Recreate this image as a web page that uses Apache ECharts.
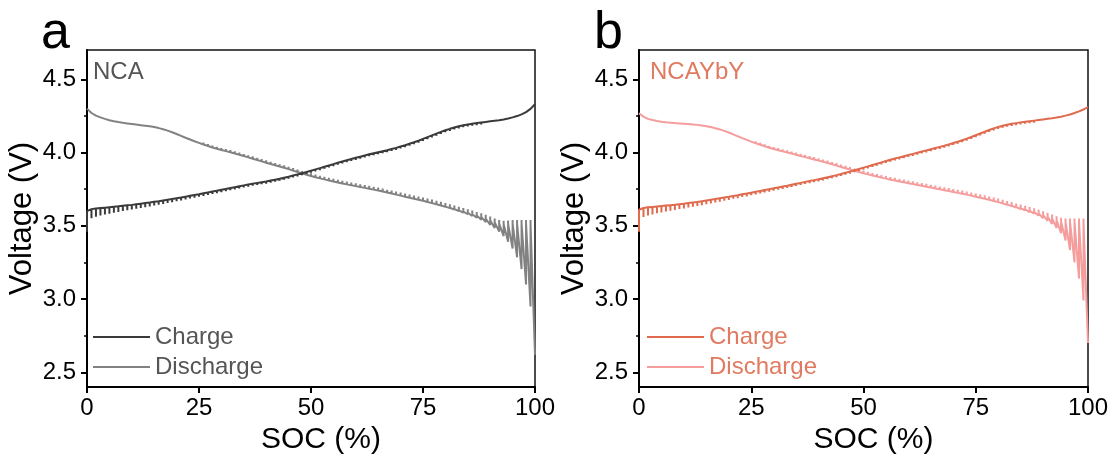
<!DOCTYPE html>
<html>
<head>
<meta charset="utf-8">
<script src="https://cdn.jsdelivr.net/npm/echarts@6/dist/echarts.min.js"></script>
<style>html,body{margin:0;padding:0;background:#fff}#c{width:1112px;height:454px}</style>
</head>
<body>
<div id="c"></div>
<script>
// ---------- data ----------
const socSteps = [0,1,2,3,4,5,6,7,8,9,10,11,12,13,14,15,16,17,18,19,20,21,22,23,24,25,26,27,28,29,30,31,32,33,34,35,36,37,38,39,40,41,42,43,44,45,46,47,48,49,50,51,52,53,54,55,56,57,58,59,60,61,62,63,64,65,66,67,68,69,70,71,72,73,74,75,76,77,78,79,80,81,82,83,84,85,86,87,88,89,90,91,92,93,94,95,96,97,98,99,100];

const xTicks = [0, 25, 50, 75, 100];
const yTicks = [2.5, 3.0, 3.5, 4.0, 4.5];
const yMinorTicks = [2.75, 3.25, 3.75, 4.25];

// Panel a (NCA) – charge voltage at each step (V)
const chargeA = [3.600,3.614,3.618,3.621,3.624,3.627,3.630,3.633,3.637,3.640,
3.643,3.647,3.651,3.655,3.659,3.664,3.668,3.673,3.678,3.683,
3.688,3.693,3.699,3.705,3.711,3.716,3.722,3.728,3.734,3.740,
3.746,3.752,3.758,3.764,3.770,3.776,3.782,3.788,3.793,3.798,
3.803,3.809,3.815,3.821,3.828,3.835,3.843,3.851,3.859,3.867,
3.876,3.885,3.894,3.903,3.912,3.921,3.930,3.939,3.948,3.956,
3.964,3.972,3.980,3.988,3.995,4.002,4.009,4.016,4.024,4.032,
4.041,4.050,4.060,4.070,4.081,4.093,4.105,4.117,4.129,4.141,
4.152,4.162,4.171,4.179,4.186,4.192,4.197,4.201,4.205,4.209,
4.213,4.217,4.221,4.226,4.232,4.240,4.249,4.261,4.276,4.298,
4.330];
// relaxation drop after each charge pulse (mV)
const chargeRelaxA = [140,62,56,51,47,44,41,38,36,34,
32,30,29,28,27,26,25,24,23,22,
21,20,20,19,19,18,18,18,17,17,
17,16,16,16,16,15,15,15,15,15,
15,15,14,14,14,14,14,14,14,14,
14,14,14,14,14,14,14,14,14,14,
14,14,14,14,14,14,14,14,14,14,
14,14,14,14,14,14,14,14,14,14,
14,14,14,14,14,14,14,14,14,13,
13,13,13,13,13,13,13,13,13,13,
0];
// Panel a – discharge voltage at each step (V)
const dischargeA = [4.300,4.270,4.252,4.240,4.230,4.221,4.214,4.208,4.203,4.199,
4.195,4.191,4.187,4.183,4.179,4.174,4.167,4.159,4.150,4.139,
4.127,4.114,4.101,4.089,4.077,4.066,4.055,4.045,4.035,4.026,
4.018,4.010,4.002,3.994,3.985,3.976,3.967,3.958,3.949,3.940,
3.931,3.922,3.913,3.905,3.896,3.887,3.877,3.867,3.858,3.849,
3.840,3.832,3.824,3.817,3.810,3.803,3.796,3.789,3.783,3.777,
3.771,3.765,3.759,3.753,3.747,3.741,3.734,3.727,3.720,3.713,
3.706,3.699,3.692,3.685,3.678,3.671,3.663,3.655,3.647,3.639,
3.630,3.621,3.611,3.601,3.590,3.579,3.567,3.555,3.541,3.525,
3.506,3.485,3.460,3.430,3.392,3.345,3.285,3.205,3.100,2.950,
2.620];
// relaxation rise after each discharge pulse (mV)
const dischargeRelaxA = [5,10,10,10,10,10,10,10,10,10,
10,10,10,10,11,11,11,12,12,12,
12,12,13,13,13,13,14,14,14,14,
14,15,15,15,15,15,15,16,16,16,
16,16,16,16,17,17,17,17,17,17,
18,18,18,18,18,18,18,19,19,19,
19,19,19,20,20,20,20,20,21,21,
21,21,22,22,22,23,23,24,24,25,
26,27,28,30,32,34,37,40,45,50,
57,65,80,105,145,195,255,335,440,590,
0];

// Panel b (NCAYbY)
const chargeB = [3.610,3.622,3.626,3.629,3.632,3.635,3.638,3.641,3.644,3.648,
3.651,3.655,3.659,3.663,3.668,3.673,3.678,3.683,3.688,3.693,
3.698,3.704,3.709,3.715,3.720,3.726,3.732,3.738,3.744,3.750,
3.756,3.762,3.768,3.774,3.781,3.787,3.793,3.800,3.806,3.812,
3.818,3.825,3.832,3.839,3.846,3.854,3.862,3.870,3.879,3.888,
3.897,3.906,3.915,3.924,3.933,3.942,3.951,3.959,3.967,3.975,
3.983,3.991,3.999,4.007,4.015,4.023,4.031,4.039,4.047,4.056,
4.065,4.074,4.084,4.095,4.106,4.118,4.130,4.142,4.154,4.165,
4.175,4.183,4.190,4.196,4.201,4.206,4.210,4.214,4.218,4.222,
4.226,4.230,4.234,4.239,4.245,4.252,4.260,4.270,4.281,4.294,
4.310];
const chargeRelaxB = [150,62,56,51,47,44,41,38,36,34,
32,30,29,28,27,26,25,24,23,22,
21,20,20,19,19,18,18,18,17,17,
17,16,16,16,16,15,15,15,15,15,
15,15,14,14,14,14,14,14,14,14,
14,14,14,14,14,14,14,14,14,14,
14,14,14,14,14,14,14,14,14,14,
14,14,14,14,14,14,14,14,14,14,
14,14,14,14,14,14,14,14,14,13,
13,13,13,13,13,13,13,13,13,13,
0];
const dischargeB = [4.268,4.245,4.230,4.222,4.216,4.211,4.207,4.204,4.201,4.199,
4.197,4.195,4.192,4.189,4.185,4.180,4.174,4.166,4.158,4.148,
4.137,4.124,4.111,4.099,4.087,4.075,4.064,4.053,4.043,4.033,
4.024,4.016,4.008,4.001,3.993,3.985,3.977,3.969,3.961,3.953,
3.945,3.937,3.929,3.920,3.911,3.902,3.893,3.884,3.875,3.867,
3.859,3.851,3.843,3.836,3.829,3.822,3.815,3.809,3.803,3.797,
3.791,3.785,3.779,3.773,3.767,3.761,3.755,3.749,3.743,3.737,
3.731,3.725,3.719,3.713,3.706,3.699,3.692,3.685,3.678,3.670,
3.662,3.653,3.644,3.635,3.625,3.615,3.605,3.594,3.582,3.568,
3.552,3.534,3.512,3.485,3.450,3.400,3.335,3.250,3.140,2.990,
2.700];
const dischargeRelaxB = [5,9,9,9,9,9,9,9,9,9,
10,10,10,10,11,11,11,12,12,12,
12,12,13,13,13,13,14,14,14,14,
14,15,15,15,15,15,15,16,16,16,
16,16,16,16,17,17,17,17,17,17,
18,18,18,18,18,18,18,19,19,19,
19,19,19,20,20,20,20,20,21,21,
21,21,22,22,22,22,23,23,23,24,
24,25,26,27,28,30,32,35,38,42,
47,55,65,80,105,150,215,300,410,560,
0];
// instantaneous (ohmic) drop at the start of each discharge pulse (mV)
const dischargeIRDropA = 25;
const dischargeIRDropB = 25;

// ---------- build GITT traces ----------
function gittPath(soc, volt, relax_mV, dir, irCap_mV) {
  const pts = [];
  for (let i = 0; i < soc.length; i++) {
    const v = volt[i];
    pts.push([soc[i], v]);
    const r = relax_mV[i];
    if (r > 0) {
      const rest = v + dir * r / 1000;
      pts.push([soc[i], rest]);
      const back = irCap_mV == null ? v : rest - dir * Math.min(r, irCap_mV) / 1000;
      pts.push([soc[i], back]);
    }
  }
  return pts;
}

const FF = '"Liberation Sans", Arial, sans-serif';
const colA = {charge:'#3a3a3a', discharge:'#828282', text:'#555555'};
const colB = {charge:'#df6a4d', discharge:'#f59c9c', text:'#e07a60'};

function xAxisFor(g) {
  return {
    type:'value', gridIndex:g, min:0, max:100, interval:25,
    axisLine:{show:true, onZero:false, lineStyle:{color:'#000', width:2}},
    axisTick:{show:true, length:6, lineStyle:{color:'#000', width:2}, customValues:xTicks},
    axisLabel:{fontSize:24, color:'#000', margin:9, fontFamily:FF, customValues:xTicks},
    splitLine:{show:false},
    name:'SOC (%)', nameLocation:'middle', nameGap:36,
    nameTextStyle:{fontSize:30, color:'#000', fontFamily:FF, padding:[0,0,0,20]}
  };
}
function yAxisFor(g) {
  return {
    type:'value', gridIndex:g, min:2.4, max:4.7,
    axisLine:{show:true, onZero:false, lineStyle:{color:'#000', width:2}},
    axisTick:{show:true, length:6, lineStyle:{color:'#000', width:2}, customValues:yTicks},
    axisLabel:{fontSize:24, color:'#000', margin:11, fontFamily:FF, customValues:yTicks,
      formatter:(v)=>Number(v).toFixed(1)},
    splitLine:{show:false},
    name:'Voltage (V)', nameLocation:'middle', nameGap:49,
    nameTextStyle:{fontSize:31, color:'#000', fontFamily:FF}
  };
}
function yMinorFor(g) {
  return {
    type:'value', gridIndex:g, min:2.4, max:4.7, position:'left',
    axisLine:{show:false},
    axisTick:{show:true, length:3, lineStyle:{color:'#000', width:1.5}, customValues:yMinorTicks},
    axisLabel:{show:false}, splitLine:{show:false}
  };
}
function lineSeries(name, data, color, xi, yi, z) {
  return {
    name, type:'line', xAxisIndex:xi, yAxisIndex:yi, data,
    showSymbol:false, symbol:'none', sampling:null, smooth:false, z,
    lineStyle:{color, width:2}, itemStyle:{color}, animation:false, silent:true
  };
}
function legendFor(names, left, textColor) {
  return {
    data:names, orient:'vertical', left, top:325, padding:0, itemWidth:57, itemHeight:2, itemGap:6,
    icon:'rect', selectedMode:false,
    textStyle:{fontSize:24, color:textColor, fontFamily:FF}
  };
}

const chart = echarts.init(document.getElementById('c'), null, {renderer:'canvas'});
chart.setOption({
  animation:false,
  backgroundColor:'#fff',
  grid:[
    {left:87, top:50, width:448, height:337, show:true, borderColor:'#111', borderWidth:1.5, backgroundColor:'transparent', containLabel:false, outerBoundsMode:'none'},
    {left:639, top:50, width:449, height:337, show:true, borderColor:'#111', borderWidth:1.5, backgroundColor:'transparent', containLabel:false, outerBoundsMode:'none'}
  ],
  xAxis:[xAxisFor(0), xAxisFor(1)],
  yAxis:[yAxisFor(0), yMinorFor(0), yAxisFor(1), yMinorFor(1)],
  legend:[
    legendFor(['Charge','Discharge'], 93, colA.text),
    legendFor(['Charge ','Discharge '], 647, colB.text)
  ],
  series:[
    lineSeries('Discharge', gittPath(socSteps, dischargeA, dischargeRelaxA, 1, dischargeIRDropA), colA.discharge, 0, 0, 2),
    lineSeries('Charge', gittPath(socSteps, chargeA, chargeRelaxA, -1, null), colA.charge, 0, 0, 3),
    lineSeries('Discharge ', gittPath(socSteps, dischargeB, dischargeRelaxB, 1, dischargeIRDropB), colB.discharge, 1, 2, 2),
    lineSeries('Charge ', gittPath(socSteps, chargeB, chargeRelaxB, -1, null), colB.charge, 1, 2, 3)
  ],
  graphic:[
    {type:'text', left:41, top:8, style:{text:'a', fontSize:52, fill:'#000', fontFamily:FF}},
    {type:'text', left:594, top:8, style:{text:'b', fontSize:52, fill:'#000', fontFamily:FF}},
    {type:'text', left:93, top:60, style:{text:'NCA', fontSize:24, fill:colA.text, fontFamily:FF}},
    {type:'text', left:650, top:60, style:{text:'NCAYbY', fontSize:24, fill:colB.text, fontFamily:FF}}
  ]
});
</script>
</body>
</html>
